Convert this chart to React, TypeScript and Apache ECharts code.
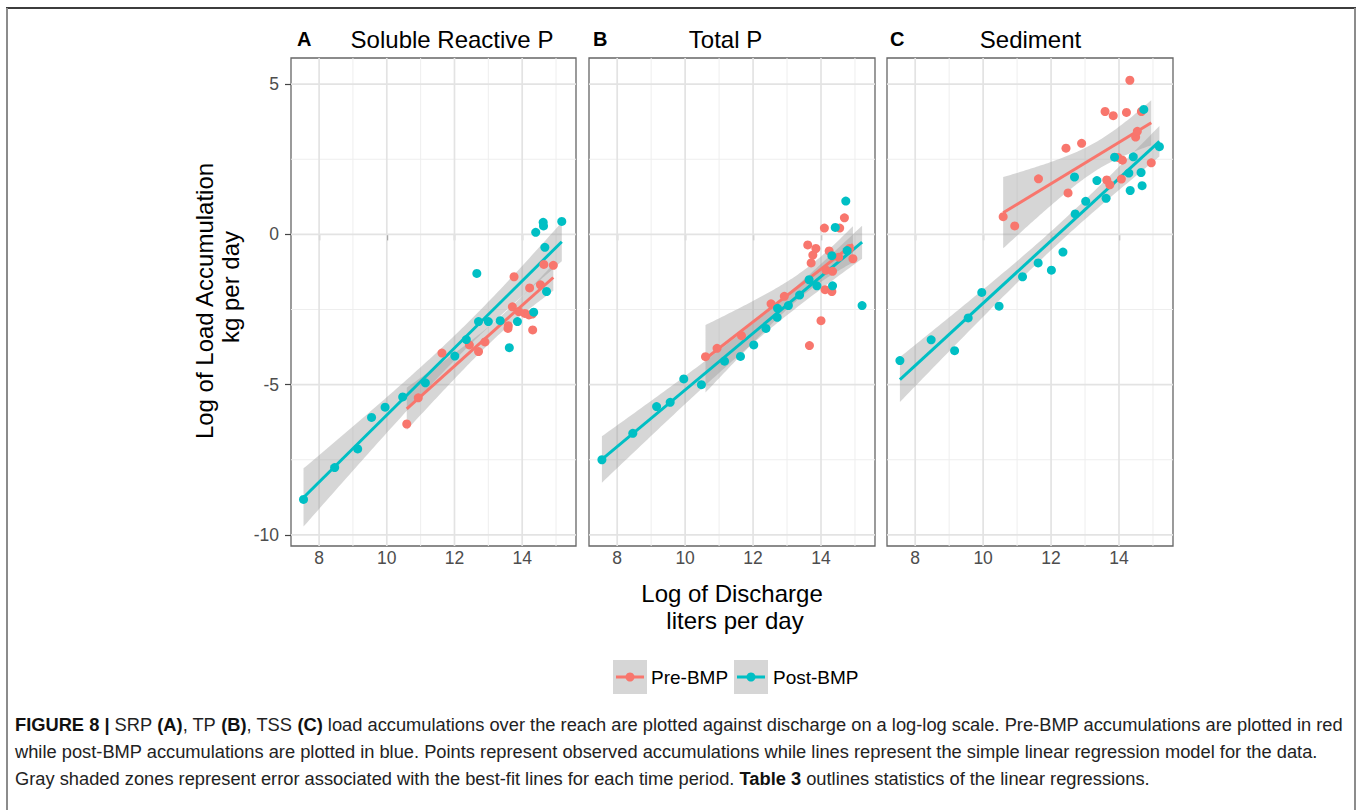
import React, { useEffect, useRef } from "react";
import * as echarts from "echarts";

// ---------------- data ----------------
const panelTitles = ["Soluble Reactive P", "Total P", "Sediment"];
const panelLetters = ["A", "B", "C"];
const groupNames = ["Pre-BMP", "Post-BMP"];
const groupColors = ["#F8766D", "#00BFC4"];
const xTickValues = [8, 10, 12, 14];
const xMinorValues = [9, 11, 13, 15];
const yTickValues = [-10, -5, 0, 5];
const yMinorValues = [-7.5, -2.5, 2.5];
const xTitleLines = ["Log of Discharge", "liters per day"];
const yTitleLines = ["Log of Load Accumulation", "kg per day"];
const xRange = [7.17, 15.59];
const yRange = [-10.37, 5.87];

// A: Soluble Reactive P
const srpPreX = [10.59, 10.93, 11.63, 12.44, 12.71, 12.90, 13.58, 13.59, 13.71, 13.76, 13.90, 14.08, 14.20, 14.22, 14.30, 14.31, 14.54, 14.64, 14.92];
const srpPreY = [-6.31, -5.44, -3.95, -3.68, -3.90, -3.58, -3.13, -3.04, -2.41, -1.41, -2.57, -2.63, -2.68, -1.78, -2.65, -3.18, -1.68, -1.00, -1.03];
const srpPostX = [7.54, 8.46, 9.14, 9.55, 9.95, 10.47, 11.14, 12.01, 12.35, 12.66, 12.71, 13.00, 13.35, 13.62, 13.86, 14.34, 14.40, 14.62, 14.63, 14.67, 14.72, 15.17];
const srpPostY = [-8.82, -7.76, -7.14, -6.09, -5.75, -5.41, -4.94, -4.05, -3.50, -1.30, -2.90, -2.90, -2.87, -3.77, -2.90, -2.59, 0.07, 0.40, 0.28, -0.43, -1.90, 0.43];

// B: Total P
const tpPreX = [10.60, 10.94, 11.66, 12.53, 12.92, 13.61, 13.66, 13.71, 13.76, 13.85, 14.00, 14.10, 14.12, 14.15, 14.24, 14.32, 14.34, 14.52, 14.55, 14.69, 14.84, 14.94];
const tpPreY = [-4.07, -3.79, -3.37, -2.31, -2.06, -0.35, -3.70, -0.95, -0.69, -0.47, -2.87, 0.21, -1.84, -1.19, -0.55, -1.90, -1.23, -0.76, 0.21, 0.55, -0.47, -0.81];
const tpPostX = [7.55, 8.46, 9.16, 9.56, 9.96, 10.48, 11.16, 11.63, 12.02, 12.38, 12.71, 12.72, 13.04, 13.37, 13.65, 13.88, 14.32, 14.34, 14.42, 14.73, 14.77, 15.21];
const tpPostY = [-7.50, -6.62, -5.73, -5.59, -4.81, -5.00, -4.22, -4.06, -3.68, -3.13, -2.76, -2.46, -2.37, -2.02, -1.51, -1.71, -0.71, -1.71, 0.23, 1.11, -0.54, -2.37];

// C: Sediment
const tssPreX = [10.59, 10.93, 11.63, 12.44, 12.50, 12.90, 13.59, 13.64, 13.73, 13.83, 13.97, 14.07, 14.10, 14.22, 14.32, 14.49, 14.54, 14.66, 14.95];
const tssPreY = [0.59, 0.28, 1.85, 2.87, 1.38, 3.03, 4.09, 1.81, 1.65, 3.95, 2.56, 1.84, 2.47, 4.06, 5.13, 3.24, 3.43, 4.09, 2.38];
const tssPostX = [7.55, 8.47, 9.16, 9.56, 9.96, 10.47, 11.16, 11.62, 12.01, 12.35, 12.69, 12.71, 13.02, 13.35, 13.62, 13.87, 14.29, 14.33, 14.42, 14.65, 14.68, 14.73, 15.19];
const tssPostY = [-4.20, -3.51, -3.87, -2.78, -1.93, -2.39, -1.41, -0.95, -1.19, -0.59, 1.91, 0.68, 1.10, 1.79, 1.20, 2.57, 2.04, 1.46, 2.58, 2.06, 1.62, 4.16, 2.92];

const captionLines = [
  "{b|FIGURE 8 |} SRP {b|(A)}, TP {b|(B)}, TSS {b|(C)} load accumulations over the reach are plotted against discharge on a log-log scale. Pre-BMP accumulations are plotted in red",
  "while post-BMP accumulations are plotted in blue. Points represent observed accumulations while lines represent the simple linear regression model for the data.",
  "Gray shaded zones represent error associated with the best-fit lines for each time period. {b|Table 3} outlines statistics of the linear regressions.",
];

// ---------------- helpers ----------------
const FONT = "'Liberation Sans', Arial, Helvetica, sans-serif";

const panels = [
  [[srpPreX, srpPreY], [srpPostX, srpPostY]],
  [[tpPreX, tpPreY], [tpPostX, tpPostY]],
  [[tssPreX, tssPreY], [tssPostX, tssPostY]],
];

function tQuantile975(df: number) {
  const z = 1.959964;
  const g1 = (z ** 3 + z) / 4;
  const g2 = (5 * z ** 5 + 16 * z ** 3 + 3 * z) / 96;
  const g3 = (3 * z ** 7 + 19 * z ** 5 + 17 * z ** 3 - 15 * z) / 384;
  return z + g1 / df + g2 / df ** 2 + g3 / df ** 3;
}

function linearFit(xs: number[], ys: number[]) {
  const n = xs.length;
  const mx = xs.reduce((a, b) => a + b, 0) / n;
  const my = ys.reduce((a, b) => a + b, 0) / n;
  let sxx = 0, sxy = 0;
  for (let i = 0; i < n; i++) {
    sxx += (xs[i] - mx) ** 2;
    sxy += (xs[i] - mx) * (ys[i] - my);
  }
  const b = sxy / sxx;
  const a = my - b * mx;
  let sse = 0;
  for (let i = 0; i < n; i++) sse += (ys[i] - a - b * xs[i]) ** 2;
  const s = Math.sqrt(sse / (n - 2));
  const t = tQuantile975(n - 2);
  const x0 = Math.min(...xs), x1 = Math.max(...xs);
  const band: number[][] = [];
  const steps = 80;
  for (let k = 0; k <= steps; k++) {
    const x = x0 + ((x1 - x0) * k) / steps;
    const yh = a + b * x;
    const se = s * Math.sqrt(1 / n + (x - mx) ** 2 / sxx);
    band.push([x, yh - t * se, yh + t * se]);
  }
  return { line: [[x0, a + b * x0], [x1, a + b * x1]], band };
}

const gridBoxes = [
  { left: 291, top: 58, width: 285, height: 488 },
  { left: 589, top: 58, width: 286, height: 488 },
  { left: 887, top: 58, width: 286, height: 488 },
];

function buildOption() {
  const grid: any[] = [];
  const xAxis: any[] = [];
  const yAxis: any[] = [];
  const series: any[] = [];

  const gridLineData: number[][] = [
    ...xMinorValues.map((v) => [v, 0, 0]),
    ...yMinorValues.map((v) => [v, 1, 0]),
    ...xTickValues.map((v) => [v, 0, 1]),
    ...yTickValues.map((v) => [v, 1, 1]),
  ];

  panels.forEach((panel, i) => {
    grid.push({
      ...gridBoxes[i],
      show: true,
      borderColor: "#666",
      borderWidth: 1.3,
      backgroundColor: "transparent",
      containLabel: false,
    });
    xAxis.push({
      type: "value",
      gridIndex: i,
      min: xRange[0],
      max: xRange[1],
      axisLine: { show: false },
      splitLine: { show: false },
      axisTick: { show: true, customValues: xTickValues, length: 6, lineStyle: { color: "#444", width: 1.2 } },
      axisLabel: {
        show: true,
        customValues: xTickValues,
        margin: 3,
        fontSize: 17.5,
        color: "#4d4d4d",
        fontFamily: FONT,
      },
    });
    yAxis.push({
      type: "value",
      gridIndex: i,
      min: yRange[0],
      max: yRange[1],
      axisLine: { show: false },
      splitLine: { show: false },
      axisTick: { show: i === 0, customValues: yTickValues, length: 6, lineStyle: { color: "#444", width: 1.2 } },
      axisLabel: {
        show: i === 0,
        customValues: yTickValues,
        margin: 12,
        fontSize: 17.5,
        color: "#4d4d4d",
        fontFamily: FONT,
      },
    });

    // grid lines
    series.push({
      type: "custom",
      xAxisIndex: i,
      yAxisIndex: i,
      z: 1,
      silent: true,
      data: gridLineData,
      dimensions: ["v", "dir", "major"],
      encode: { x: 0, y: 0 },
      renderItem: (params: any, api: any) => {
        const cs = params.coordSys;
        const v = api.value(0);
        const dir = api.value(1);
        const major = api.value(2);
        let shape;
        if (dir === 0) {
          const px = api.coord([v, 0])[0];
          shape = { x1: px, y1: cs.y, x2: px, y2: cs.y + cs.height };
        } else {
          const py = api.coord([10, v])[1];
          shape = { x1: cs.x, y1: py, x2: cs.x + cs.width, y2: py };
        }
        return {
          type: "line",
          shape,
          style: { stroke: major ? "#e3e3e3" : "#eeeeee", lineWidth: major ? 1.7 : 1 },
        };
      },
    });

    const fits = panel.map(([xs, ys]) => linearFit(xs, ys));

    // ribbons
    fits.forEach((f, g) => {
      series.push({
        type: "custom",
        name: groupNames[g] + " se",
        xAxisIndex: i,
        yAxisIndex: i,
        z: 2,
        silent: true,
        data: f.band,
        dimensions: ["x", "lo", "hi"],
        encode: { x: 0, y: [1, 2] },
        renderItem: (params: any, api: any) => {
          if (params.dataIndex !== 0) return null;
          const up = f.band.map((p) => api.coord([p[0], p[2]]));
          const lo = f.band.slice().reverse().map((p) => api.coord([p[0], p[1]]));
          return {
            type: "polygon",
            shape: { points: up.concat(lo) },
            style: { fill: "rgba(153,153,153,0.4)" },
          };
        },
      });
    });

    // regression lines
    fits.forEach((f, g) => {
      series.push({
        type: "line",
        name: groupNames[g],
        xAxisIndex: i,
        yAxisIndex: i,
        z: 3,
        silent: true,
        showSymbol: false,
        symbol: "none",
        data: f.line,
        lineStyle: { color: groupColors[g], width: 3 },
      });
    });

    // points
    panel.forEach(([xs, ys], g) => {
      series.push({
        type: "scatter",
        name: groupNames[g],
        xAxisIndex: i,
        yAxisIndex: i,
        z: 4,
        silent: true,
        symbolSize: 9,
        itemStyle: { color: groupColors[g], opacity: 1 },
        data: xs.map((x, k) => [x, ys[k]]),
      });
    });
  });

  const graphic: any[] = [];
  // frame
  graphic.push({ type: "line", shape: { x1: 6, y1: 8, x2: 1356, y2: 8 }, style: { stroke: "#3c3c3c", lineWidth: 2 } });
  graphic.push({ type: "line", shape: { x1: 7, y1: 8, x2: 7, y2: 810 }, style: { stroke: "#8c8c8c", lineWidth: 2 } });
  graphic.push({ type: "line", shape: { x1: 1355, y1: 8, x2: 1355, y2: 810 }, style: { stroke: "#8c8c8c", lineWidth: 2 } });

  // titles
  const letterX = [297, 593, 890];
  const titleCX = [452, 725.5, 1030.5];
  panelTitles.forEach((t, i) => {
    graphic.push({
      type: "text",
      x: letterX[i],
      y: 39,
      style: { text: panelLetters[i], fontSize: 20, fontWeight: "bold", fontFamily: FONT, fill: "#000", align: "left", verticalAlign: "middle" },
    });
    graphic.push({
      type: "text",
      x: titleCX[i],
      y: 39,
      style: { text: t, fontSize: 24, fontFamily: FONT, fill: "#000", align: "center", verticalAlign: "middle" },
    });
  });

  // axis titles
  const yTitleX = [204, 230];
  const yTitleY = [301, 287];
  yTitleLines.forEach((t, k) => {
    graphic.push({
      type: "text",
      x: yTitleX[k],
      y: yTitleY[k],
      rotation: Math.PI / 2,
      style: { text: t, fontSize: 24, fontFamily: FONT, fill: "#000", align: "center", verticalAlign: "middle" },
    });
  });
  const xTitleY = [593, 620];
  const xTitleCX = [732, 735];
  xTitleLines.forEach((t, k) => {
    graphic.push({
      type: "text",
      x: xTitleCX[k],
      y: xTitleY[k],
      style: { text: t, fontSize: 24, fontFamily: FONT, fill: "#000", align: "center", verticalAlign: "middle" },
    });
  });

  // legend
  const keyX = [613, 734];
  const textX = [651, 773];
  groupNames.forEach((nm, g) => {
    graphic.push({ type: "rect", shape: { x: keyX[g], y: 660, width: 34, height: 34 }, style: { fill: "#d6d6d6" } });
    graphic.push({ type: "line", shape: { x1: keyX[g] + 3, y1: 677, x2: keyX[g] + 31, y2: 677 }, style: { stroke: groupColors[g], lineWidth: 3 } });
    graphic.push({ type: "circle", shape: { cx: keyX[g] + 17, cy: 677, r: 4.5 }, style: { fill: groupColors[g] } });
    graphic.push({
      type: "text",
      x: textX[g],
      y: 677,
      style: { text: nm, fontSize: 19, fontFamily: FONT, fill: "#000", align: "left", verticalAlign: "middle" },
    });
  });

  // caption
  const capY = [724, 751, 778];
  captionLines.forEach((t, k) => {
    graphic.push({
      type: "text",
      x: 15,
      y: capY[k],
      style: {
        text: t,
        fontSize: 18.3,
        fontFamily: FONT,
        fill: "#222",
        align: "left",
        verticalAlign: "middle",
        rich: { b: { fontWeight: "bold", fontSize: 18.3, fontFamily: FONT, fill: "#111" } },
      },
    });
  });

  return {
    animation: false,
    backgroundColor: "#ffffff",
    grid,
    xAxis,
    yAxis,
    series,
    graphic,
  };
}

export default function App() {
  const ref = useRef<HTMLDivElement>(null);
  useEffect(() => {
    if (!ref.current) return;
    const chart = echarts.init(ref.current, undefined, { renderer: "svg" });
    chart.setOption(buildOption() as any);
    return () => chart.dispose();
  }, []);
  return (
    <div
      ref={ref}
      style={{ position: "fixed", left: 0, top: 0, width: 1358, height: 810, background: "#fff" }}
    />
  );
}
